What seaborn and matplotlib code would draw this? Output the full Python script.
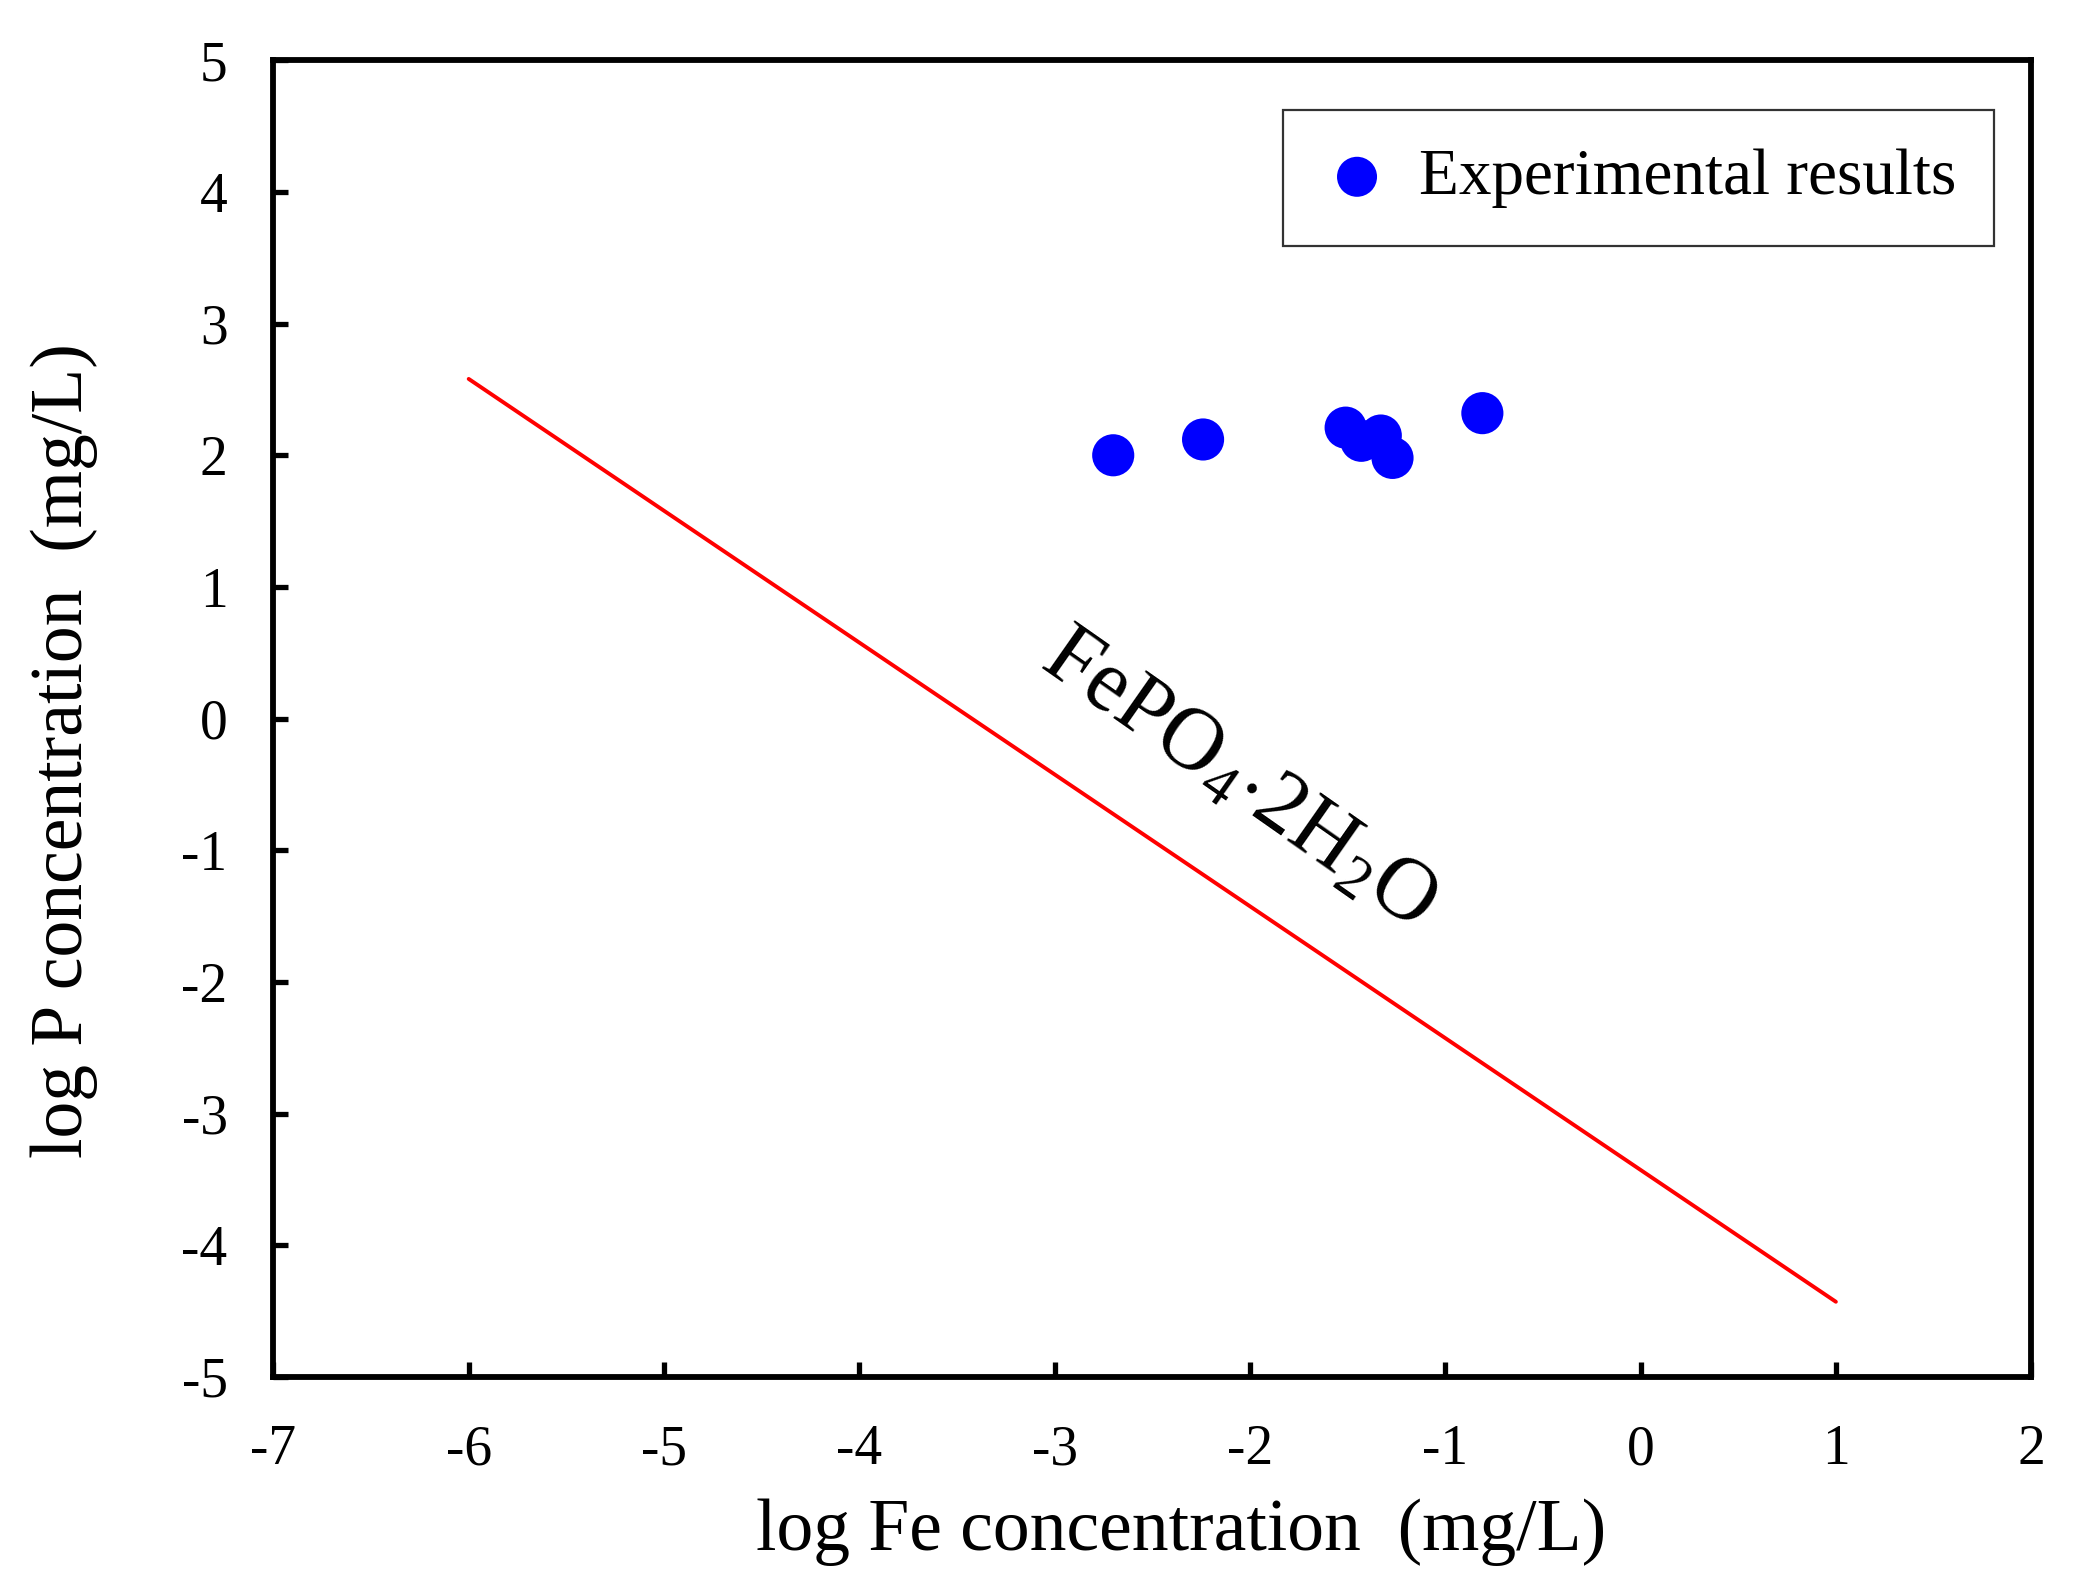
import matplotlib
matplotlib.use("Agg")
import matplotlib.pyplot as plt
import pandas as pd
import seaborn as sns

# experimental points (log mg/L)
fe_exp = [-2.70, -2.24, -1.51, -1.43, -1.33, -1.27, -0.81]
p_exp = [2.00, 2.12, 2.21, 2.11, 2.15, 1.98, 2.32]

# FePO4.2H2O solubility line
fe_line = [-6.0, 1.0]
p_line = [2.58, -4.43]

x_ticks = [-7, -6, -5, -4, -3, -2, -1, 0, 1, 2]
y_ticks = [-5, -4, -3, -2, -1, 0, 1, 2, 3, 4, 5]

sns.set_style("ticks")
plt.rcParams["font.family"] = ["Liberation Serif", "DejaVu Serif"]
plt.rcParams["mathtext.fontset"] = "custom"
plt.rcParams["mathtext.rm"] = "Liberation Serif"
plt.rcParams["mathtext.it"] = "Liberation Serif"
plt.rcParams["axes.unicode_minus"] = False
for key in ["text.color", "axes.labelcolor", "xtick.color", "ytick.color", "axes.edgecolor"]:
    plt.rcParams[key] = "black"

exp_df = pd.DataFrame({"fe": fe_exp, "p": p_exp})
line_df = pd.DataFrame({"fe": fe_line, "p": p_line})

fig, ax = plt.subplots(figsize=(20.79, 15.88), dpi=100)
fig.subplots_adjust(left=0.1315, right=0.977, bottom=0.133, top=0.962)

sns.lineplot(data=line_df, x="fe", y="p", ax=ax, color="red", linewidth=2.8, legend=False)
sns.scatterplot(data=exp_df, x="fe", y="p", ax=ax, color="blue", s=920,
                edgecolor="none", label="Experimental results", zorder=3)

ax.set_xlim(-7, 2)
ax.set_ylim(-5, 5)
ax.set_xticks(x_ticks)
ax.set_yticks(y_ticks)
ax.tick_params(axis="both", direction="in", length=11, width=3.8,
               labelsize=40, top=False, right=False)
ax.tick_params(axis="x", pad=34)
ax.tick_params(axis="y", pad=33)
for sp in ax.spines.values():
    sp.set_visible(True)
    sp.set_linewidth(4.2)
    sp.set_color("black")

ax.set_xlabel("log Fe concentration  (mg/L)", fontsize=53, labelpad=16, x=0.5166)
ax.set_ylabel("log P concentration  (mg/L)", fontsize=53, labelpad=60, y=0.476)

ax.text(-2.06, -0.46, r"FePO$_{4}$$\cdot$2H$_{2}$O", fontsize=63, rotation=-35,
        rotation_mode="anchor", ha="center", va="center")

leg = ax.legend(loc="upper right", bbox_to_anchor=(0.979, 0.962), borderaxespad=0,
                fontsize=47, frameon=True, fancybox=False, markerscale=0.95,
                handletextpad=0.4, borderpad=0.58, handlelength=1.1)
leg.get_frame().set_edgecolor("black")
leg.get_frame().set_linewidth(1.6)

fig.savefig("out.png", dpi=100)
